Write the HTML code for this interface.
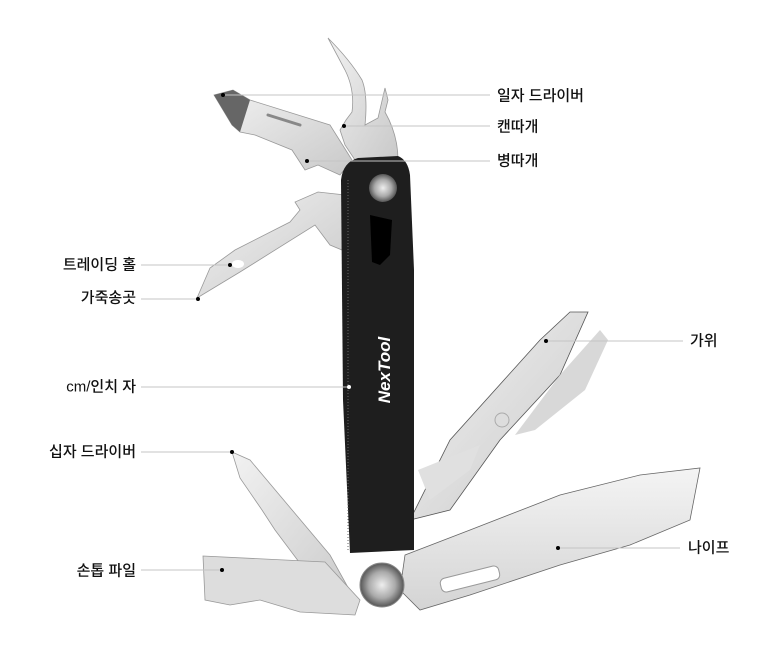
<!DOCTYPE html>
<html><head><meta charset="utf-8"><style>
html,body{margin:0;padding:0;background:#fff;}
svg{display:block;}
text{font-family:"Liberation Sans","Noto Sans CJK KR",sans-serif;font-size:15px;fill:#111;}
</style></head><body>
<svg width="780" height="650" viewBox="0 0 780 650" xmlns="http://www.w3.org/2000/svg">
<defs>
<linearGradient id="st" x1="0" y1="0" x2="1" y2="1"><stop offset="0" stop-color="#f2f2f2"/><stop offset="1" stop-color="#c9c9c9"/></linearGradient>
<linearGradient id="kn" x1="0" y1="0" x2="0" y2="1"><stop offset="0" stop-color="#f4f4f4"/><stop offset="1" stop-color="#d4d4d4"/></linearGradient>
<radialGradient id="sc"><stop offset="0" stop-color="#eee"/><stop offset=".6" stop-color="#aaa"/><stop offset="1" stop-color="#555"/></radialGradient>
</defs>
<!-- can opener / top blade -->
<path d="M328 38 Q350 60 362 80 Q368 95 365 125 L378 118 L385 88 L388 100 L385 112 Q398 135 398 160 L355 160 L345 145 L340 130 L346 120 L352 112 Q355 90 345 70 Z" fill="url(#st)" stroke="#999" stroke-width=".8"/>
<!-- flat screwdriver -->
<path d="M214 95 L233 90 L250 100 L330 125 L352 160 L340 175 L318 165 L305 170 L292 150 L255 135 L240 132 L232 125 Z" fill="url(#st)" stroke="#999" stroke-width=".8"/>
<path d="M214 95 L233 90 L250 100 L240 132 L232 125 Z" fill="#666"/>
<path d="M268 115 L300 125" stroke="#888" stroke-width="3" stroke-linecap="round"/>
<!-- awl -->
<path d="M197 298 L210 268 L235 250 L290 222 L300 210 L295 202 L318 192 L345 195 L342 250 L330 245 L315 225 L240 272 Z" fill="url(#st)" stroke="#999" stroke-width=".8"/>
<ellipse cx="238" cy="264" rx="6" ry="4" fill="#fff"/>
<!-- scissors -->
<path d="M410 520 L450 440 L540 340 L570 312 L588 312 L560 375 L500 440 L450 510 Z" fill="url(#st)" stroke="#555" stroke-width=".8"/>
<path d="M560 375 L600 330 L608 340 L585 390 L535 430 L515 435 Z" fill="#d8d8d8"/>
<circle cx="502" cy="420" r="7" fill="#ddd" stroke="#aaa"/>
<path d="M418 470 L480 445 L470 470 L430 500 Z" fill="#e0e0e0"/>
<!-- knife -->
<path d="M405 555 L470 530 L560 495 L640 475 L700 468 L690 520 L630 545 L560 565 L470 595 L420 610 L400 590 Z" fill="url(#kn)" stroke="#666" stroke-width=".8"/>
<rect x="440" y="572" width="60" height="14" rx="5" transform="rotate(-14 470 579)" fill="#fff" stroke="#999"/>
<!-- phillips -->
<path d="M232 452 L250 460 L330 555 L355 600 L340 610 L320 590 L275 530 L262 510 L240 478 Z" fill="url(#st)" stroke="#999" stroke-width=".8"/>
<!-- nail file -->
<path d="M203 556 L325 562 L360 600 L355 615 L300 612 L260 600 L230 605 L205 600 Z" fill="#ddd" stroke="#999" stroke-width=".8"/>
<!-- handle -->
<path d="M358 158 L398 156 Q408 160 410 175 L414 270 L414 550 L350 553 L343 400 L341 180 Q343 162 358 158 Z" fill="#1e1e1e"/>
<path d="M370 215 L392 220 L390 255 L380 265 L372 262 Z" fill="#000"/>
<line x1="348" y1="180" x2="348" y2="550" stroke="#666" stroke-width="1" stroke-dasharray="1 2"/>
<text transform="translate(390,370) rotate(-90)" style="font-size:17px;font-weight:bold;fill:#fff;font-style:italic" text-anchor="middle">NexTool</text>
<circle cx="383" cy="188" r="14" fill="url(#sc)"/>
<circle cx="382" cy="585" r="22" fill="url(#sc)" stroke="#888"/>
<!-- leader lines -->
<g stroke="#c4c4c4" stroke-width="1">
<line x1="223" y1="95" x2="490" y2="95"/>
<line x1="344" y1="126" x2="490" y2="126"/>
<line x1="307" y1="161" x2="490" y2="161"/>
<line x1="141" y1="265" x2="230" y2="265"/>
<line x1="141" y1="299" x2="198" y2="299"/>
<line x1="141" y1="387" x2="349" y2="387"/>
<line x1="141" y1="452" x2="232" y2="452"/>
<line x1="141" y1="570" x2="222" y2="570"/>
<line x1="546" y1="341" x2="683" y2="341"/>
<line x1="558" y1="548" x2="680" y2="548"/>
</g>
<g fill="#000">
<circle cx="223" cy="95" r="2"/><circle cx="344" cy="126" r="2"/><circle cx="307" cy="161" r="2"/>
<circle cx="230" cy="265" r="2"/><circle cx="198" cy="299" r="2"/><circle cx="349" cy="387" r="2" fill="#fff"/>
<circle cx="232" cy="452" r="2"/><circle cx="222" cy="570" r="2"/><circle cx="546" cy="341" r="2"/><circle cx="558" cy="548" r="2"/>
</g>
<g dominant-baseline="central" style="font-weight:500">
<text x="497" y="96">일자 드라이버</text>
<text x="497" y="127">캔따개</text>
<text x="497" y="161">병따개</text>
<text x="136" y="265" text-anchor="end">트레이딩 홀</text>
<text x="136" y="298" text-anchor="end">가죽송곳</text>
<text x="136" y="387" text-anchor="end">cm/인치 자</text>
<text x="136" y="452" text-anchor="end">십자 드라이버</text>
<text x="136" y="571" text-anchor="end">손톱 파일</text>
<text x="690" y="341">가위</text>
<text x="688" y="548">나이프</text>
</g>
</svg>
</body></html>
